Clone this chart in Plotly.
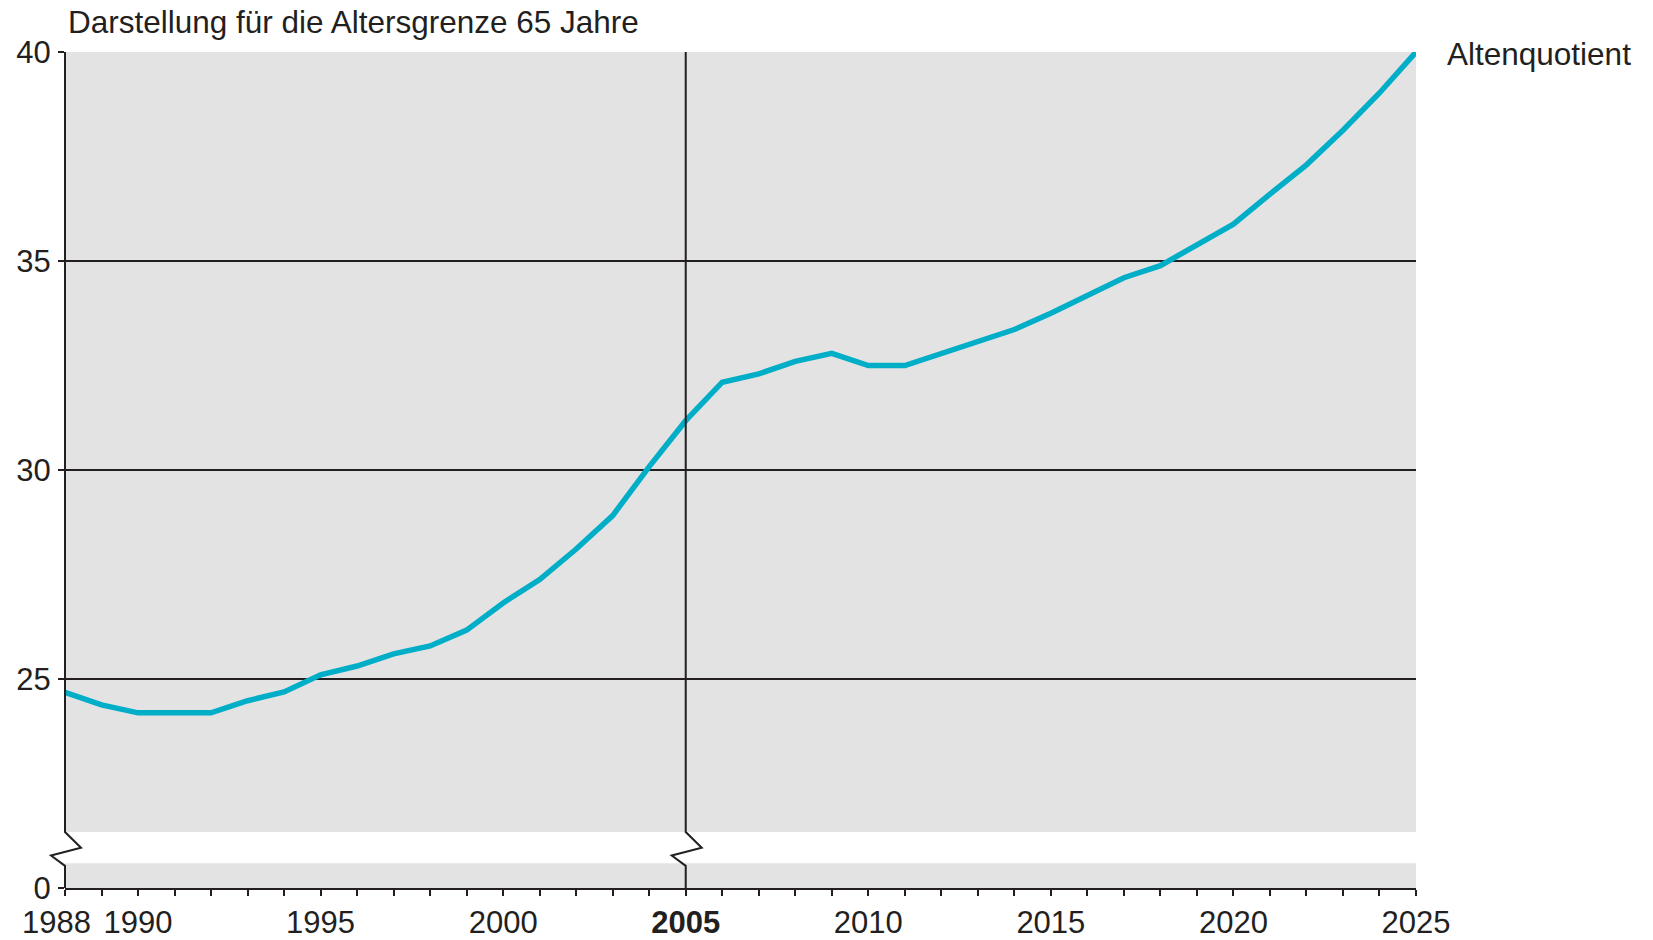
import plotly.graph_objects as go

# Altenquotient (Altersgrenze 65)
years = list(range(1988, 2026))
altenquotient = [
    24.68, 24.38, 24.19, 24.19, 24.19, 24.48, 24.69, 25.10, 25.31, 25.60,
    25.79, 26.17, 26.82, 27.38, 28.11, 28.91, 30.08, 31.18, 32.10, 32.30,
    32.60, 32.79, 32.50, 32.50, 32.79, 33.07, 33.36, 33.75, 34.16, 34.60,
    34.89, 35.40, 35.88, 36.60, 37.30, 38.13, 39.02, 40.00,
]

x_labels = {1988: "1988\u00a0\u00a0", 1990: "1990", 1995: "1995", 2000: "2000",
            2005: "<b>2005</b>", 2010: "2010", 2015: "2015", 2020: "2020", 2025: "2025"}
y_tickvals = [20, 25, 30, 35, 40]
y_ticktext = ["0", "25", "30", "35", "40"]

# axis break: value range shown below the break is just the 0 line
break_top = 21.34
break_bottom = 20.59
axis_floor = 20
axis_top = 40

FONT = "Liberation Sans, Arial, sans-serif"
INK = "#231f20"
GRAY = "#e3e3e3"
TEAL = "#00aec7"

W, H = 1653, 940
M = dict(l=65, r=237, t=52, b=52)
plot_w = W - M["l"] - M["r"]
plot_h = H - M["t"] - M["b"]

fig = go.Figure()

fig.add_trace(go.Scatter(
    x=years, y=altenquotient,
    mode="lines",
    line=dict(color=TEAL, width=5.5),
    showlegend=False,
    hoverinfo="x+y"))

x0, x1 = years[0], years[-1]
shapes = [
    dict(type="rect", xref="x", yref="y", x0=x0, x1=x1, y0=break_top, y1=axis_top,
         fillcolor=GRAY, line_width=0, layer="below"),
    dict(type="rect", xref="x", yref="y", x0=x0, x1=x1, y0=axis_floor, y1=break_bottom,
         fillcolor=GRAY, line_width=0, layer="below"),
]


def px(xv):
    return (xv - x0) / (x1 - x0)


def py(yv):
    return (yv - axis_floor) / (axis_top - axis_floor)


def broken_line(xv):
    # vertical line with a zigzag across the break band (paper coords, not clipped)
    x = px(xv)
    dx_r = 16 / plot_w
    dx_l = 14 / plot_w
    yt, yb = py(break_top), py(break_bottom)
    y_m1 = yt - (yt - yb) * 0.5
    y_m2 = yt - (yt - yb) * 0.75
    return (f"M {x},1 L {x},{yt} L {x + dx_r},{y_m1} "
            f"L {x - dx_l},{y_m2} L {x},{yb - 0.003} L {x},0")


for xv in (1988, 2005):
    shapes.append(dict(type="path", xref="paper", yref="paper", path=broken_line(xv),
                       line=dict(color=INK, width=2), layer="above"))

fig.update_layout(
    width=W, height=H,
    margin=M,
    template="none",
    paper_bgcolor="white",
    plot_bgcolor="white",
    font=dict(family=FONT, size=31, color=INK),
    shapes=shapes,
    annotations=[
        dict(text="Darstellung für die Altersgrenze 65 Jahre",
             xref="paper", yref="paper", x=0, y=1 + 30 / plot_h,
             xanchor="left", yanchor="middle", xshift=1, showarrow=False,
             font=dict(family=FONT, size=31.5, color=INK)),
        dict(text="Altenquotient", xref="x", yref="y",
             x=years[-1], y=altenquotient[-1], xanchor="left", yanchor="middle",
             xshift=29, yshift=-2, showarrow=False,
             font=dict(family=FONT, size=31.5, color=INK)),
    ],
)

fig.update_xaxes(
    range=[x0, x1],
    tickvals=years,
    ticktext=[x_labels.get(y, "") for y in years],
    tickangle=0,
    ticks="outside", ticklen=6, tickwidth=2, tickcolor=INK,
    showline=True, linecolor=INK, linewidth=2,
    showgrid=False, zeroline=False, automargin=False,
)

fig.update_yaxes(
    range=[axis_floor, axis_top],
    tickvals=y_tickvals,
    ticktext=y_ticktext,
    ticks="outside", ticklen=6, tickwidth=2, tickcolor=INK,
    ticklabelstandoff=1,
    showline=False,
    showgrid=True, gridcolor=INK, gridwidth=2,
    zeroline=False, automargin=False,
)

# drop the default page margin so the figure fills the window exactly
fig.write_html("out.html", config={"displayModeBar": False},
               post_script="document.body.style.margin = '0';")
